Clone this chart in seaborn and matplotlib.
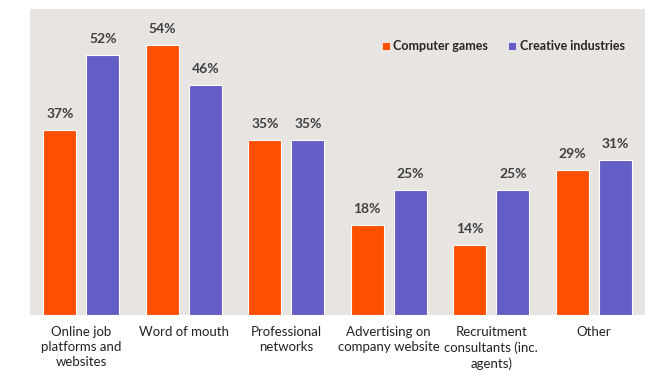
import matplotlib
matplotlib.use("Agg")
import matplotlib.pyplot as plt
import seaborn as sns
import pandas as pd
from matplotlib.patches import Patch

categories = [
    "Online job\nplatforms and\nwebsites",
    "Word of mouth",
    "Professional\nnetworks",
    "Advertising on\ncompany website",
    "Recruitment\nconsultants (inc.\nagents)",
    "Other",
]
series_names = ["Computer games", "Creative industries"]
computer_games = [37, 54, 35, 18, 14, 29]
creative_industries = [52, 46, 35, 25, 25, 31]

colors = ["#FE5000", "#645DC6"]
bg = "#E8E4E1"

df = pd.DataFrame({
    "category": categories * 2,
    "series": [series_names[0]] * len(categories) + [series_names[1]] * len(categories),
    "value": computer_games + creative_industries,
})

sns.set_theme(style="white")
plt.rcParams["font.family"] = ["Lato", "DejaVu Sans"]

fig = plt.figure(figsize=(6.47, 3.71), dpi=100)
ax = fig.add_axes([30 / 647, 56 / 371, 615 / 647, 306 / 371])
ax.set_facecolor(bg)

sns.barplot(
    data=df, x="category", y="value", hue="series",
    order=categories, hue_order=series_names, palette=colors,
    saturation=1, width=0.84, gap=0.23, edgecolor="white", linewidth=0.8,
    legend=False, ax=ax,
)

ax.set_xlim(-0.5, len(categories) - 0.5)
ax.set_ylim(0, 61.2)
ax.set_xlabel("")
ax.set_ylabel("")
ax.set_yticks([])
ax.tick_params(axis="x", length=0, pad=8, labelsize=9.5, labelcolor="#222222")
for lbl in ax.get_xticklabels():
    lbl.set_linespacing(1.3)
    lbl.set_verticalalignment("top")
for s in ax.spines.values():
    s.set_visible(False)

for container in ax.containers:
    ax.bar_label(container, labels=[f"{v:.0f}%" for v in container.datavalues],
                 padding=7, fontsize=10, fontweight="bold", color="#404040")

handles = [Patch(facecolor=c, edgecolor="white", linewidth=0.5) for c in colors]
ax.legend(handles, series_names, loc="upper right", bbox_to_anchor=(0.985, 0.935),
          ncol=2, frameon=False, handlelength=0.6, handleheight=0.6,
          handletextpad=0.3, columnspacing=1.6,
          prop={"weight": "bold", "size": 9})

fig.savefig("out.png", dpi=100, facecolor="white")
